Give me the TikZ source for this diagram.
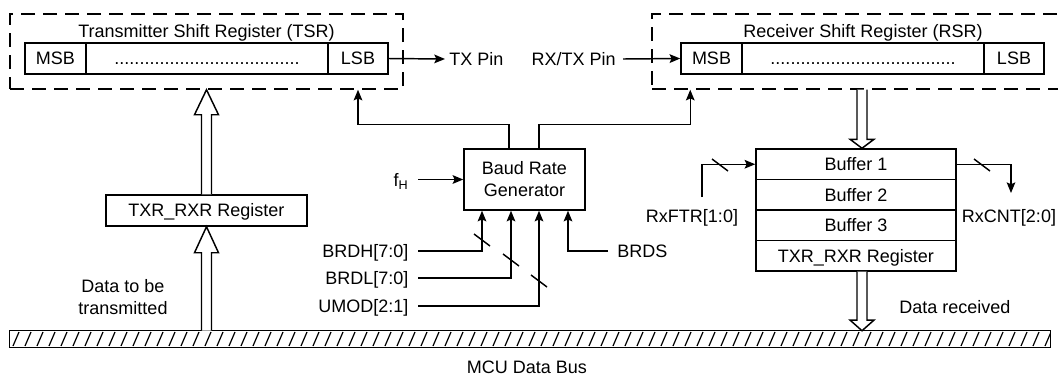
\documentclass[tikz,border=0pt]{standalone}
\usepackage{fontspec}
\setmainfont{Liberation Sans}
\usetikzlibrary{calc,arrows.meta}
\newcommand\vhollow[3]{\draw[hollow] let \p1=#1, \p2=#2 in
  ({\x2-3.75pt},{\y1}) -- ({\x2-3.75pt},{\y2-(#3)}) -- ({\x2-9pt},{\y2-(#3)}) -- ({\x2},{\y2})
  -- ({\x2+9pt},{\y2-(#3)}) -- ({\x2+3.75pt},{\y2-(#3)}) -- ({\x2+3.75pt},{\y1});}
\begin{document}
\begin{tikzpicture}[x=0.75pt,y=-0.75pt,
  every node/.style={font=\fontsize{13.5}{16.5}\selectfont, inner sep=0pt},
  line/.style={line width=1.1pt},
  cell/.style={draw, line width=1.1pt, inner sep=0pt, text height=9.7pt, text depth=0pt},
  lbl/.style={text height=9.7pt, text depth=0pt},
  dashbox/.style={draw, line width=1.1pt, dash pattern=on 10.5pt off 6pt},
  arr/.style={line width=1.1pt, -{Stealth[length=8pt,width=6.5pt,inset=1.5pt]}},
  hollow/.style={line width=1.1pt, fill=white, line join=miter},
  slash/.style={line width=1.1pt}]
\useasboundingbox (0,0) rectangle (1058,376);

% Transmitter shift register
\node[dashbox, minimum width=294.75pt, minimum height=56.25pt] (tsr) at (206.5,51.5) {};
\node[lbl] (tsrt) at (206.5,31) {Transmitter Shift Register (TSR)};
\node[cell, minimum width=45.75pt, minimum height=23.25pt] (tmsb) at (55.5,58.5) {MSB};
\node[cell, minimum width=181.5pt, minimum height=23.25pt] (tmid) at (207,58.5) {.....................................};
\node[cell, minimum width=45pt, minimum height=23.25pt] (tlsb) at (358,58.5) {LSB};

% Receiver shift register (its right side lies beyond the picture)
\node[dashbox, minimum width=313.5pt, minimum height=56.25pt] (rsr) at (861,51.5) {};
\node[lbl] (rsrt) at (863,31) {Receiver Shift Register (RSR)};
\node[cell, minimum width=45.75pt, minimum height=23.25pt] (rmsb) at (711.5,58.5) {MSB};
\node[cell, minimum width=181.5pt, minimum height=23.25pt] (rmid) at (863,58.5) {.....................................};
\node[cell, minimum width=45pt, minimum height=23.25pt] (rlsb) at (1014,58.5) {LSB};

% pins
\node[lbl, anchor=west, inner xsep=3pt] (txpin) at (445,59) {TX Pin};
\draw[arr] (tlsb.east) -- (txpin.west);
\node[lbl, anchor=east, inner xsep=5.25pt] (rxpin) at (623,59) {RX/TX Pin};
\draw[arr] (rxpin.east) -- (rmsb.west);

% TXR_RXR (transmit side)
\node[cell, minimum width=150.75pt, minimum height=23.25pt] (txr) at (206.5,210.5) {TXR\_RXR Register};

% Baud rate generator
\node[draw, line, minimum width=90.75pt, minimum height=45.75pt, align=center] (baud) at (524.5,179.5) {Baud Rate\\Generator};

% Buffers
\node[cell, minimum width=150pt, minimum height=22.875pt] (buf1) at (856,164.25) {Buffer 1};
\node[cell, minimum width=150pt, minimum height=22.875pt] (buf2) at (856,194.75) {Buffer 2};
\node[cell, minimum width=150pt, minimum height=22.875pt] (buf3) at (856,225.25) {Buffer 3};
\node[cell, minimum width=150pt, minimum height=22.875pt] (buf4) at (856,255.75) {TXR\_RXR Register};

% Bus
\node[minimum width=780pt, minimum height=12pt] (bus) at (530,339) {};
\begin{scope}
  \clip (bus.south west) rectangle (bus.north east);
  \foreach \i in {0,...,87} \draw[line width=0.9pt] (13+\i*12,346) -- (19+\i*12,332);
\end{scope}
\draw[line] (bus.south west) rectangle (bus.north east);
\node[lbl] (mcu) at (527,367) {MCU Data Bus};

% hollow bus arrows
\vhollow{(txr.north)}{(tsr.south)}{18.75pt}
\vhollow{(txr.south |- bus.north)}{(txr.south)}{19.5pt}
\coordinate (rin) at ($(buf1.north)+(6,0)$);
\vhollow{(rin |- rsr.south)}{(rin)}{-6.75pt}
\coordinate (rout) at ($(buf4.south)+(6,0)$);
\vhollow{(rout)}{(rout |- bus.north)}{-8pt}

\node[align=center] (dtx) at (123,297) {Data to be\\transmitted};
\node[lbl] (drx) at (955,307) {Data received};

% Baud outputs
\coordinate (rsrin) at ($(rsr.south west)+(39,0)$);
\draw[arr] ($(baud.north)+(-15.5,0)$) -- ++(0,-24) -| (tlsb.south |- tsr.south);
\draw[arr] ($(baud.north)+(14.5,0)$) -- ++(0,-24) -| (rsrin);

% Baud inputs
\node[lbl, anchor=east, inner xsep=7pt] (fh) at (418,180) {f\textsubscript{H}};
\draw[arr] (fh.east |- baud.west) -- (baud.west);
\node[lbl, anchor=east, inner xsep=7pt] (brdh) at (418,251) {BRDH[7:0]};
\node[lbl, anchor=east, inner xsep=7pt] (brdl) at (418,278) {BRDL[7:0]};
\node[lbl, anchor=east, inner xsep=7pt] (umod) at (418,306) {UMOD[2:1]};
\node[lbl, anchor=west, inner xsep=6.75pt] (brds) at (608,251) {BRDS};
\coordinate (bh) at ($(baud.south)+(-42.5,0)$);
\coordinate (bl) at ($(baud.south)+(-13.5,0)$);
\coordinate (um) at ($(baud.south)+(14.5,0)$);
\coordinate (bs) at ($(baud.south)+(43.5,0)$);
\draw[arr] (brdh.east) -| (bh);
\draw[arr] (brdl.east) -| (bl);
\draw[arr] (umod.east) -| (um);
\draw[arr] (brds.west) -| (bs);
\draw[slash] (482,240) +(-8,-6) -- +(8,6);
\draw[slash] (511,260) +(-8,-6) -- +(8,6);
\draw[slash] (539,281) +(-8,-6) -- +(8,6);

% RxFTR / RxCNT
\node[lbl] (rxftr) at (692,216) {RxFTR[1:0]};
\node[lbl] (rxcnt) at (1009,216) {RxCNT[2:0]};
\coordinate (ftin) at (702,197);
\coordinate (cntout) at (1011,193);
\draw[arr] (ftin) |- (buf1.west);
\draw[arr] (buf1.east) -| (cntout);
\draw[slash] (720,165) +(-8,-6) -- +(8,6);
\draw[slash] (982,165) +(-8,-6) -- +(8,6);
\end{tikzpicture}
\end{document}
